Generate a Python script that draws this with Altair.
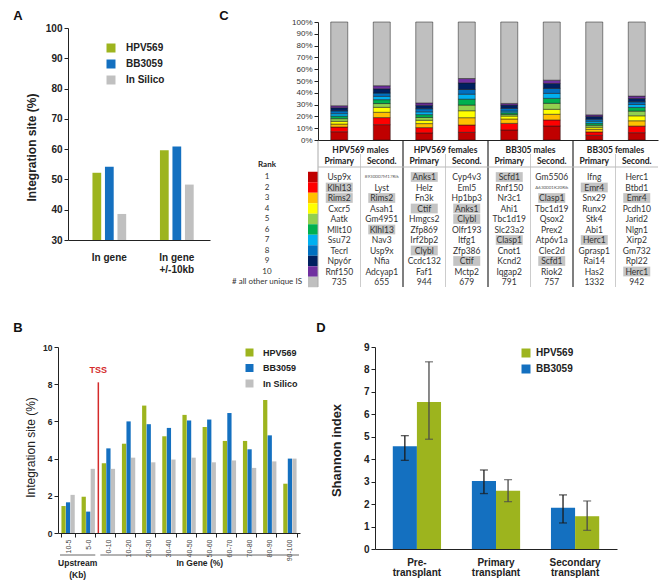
import altair as alt
import pandas as pd

FONT = "Liberation Sans"
TFONT = "Lato"
GREEN = "#9DB41E"
BLUE = "#1470C0"
SILVER = "#C0C0C0"
INK = "#222222"

# ---------------- Panel A ----------------
a_groups = ["In gene", "In gene +/-10kb"]
a_series = ["HPV569", "BB3059", "In Silico"]
a_hpv569 = [52.2, 59.6]
a_bb3059 = [54.2, 60.9]
a_silico = [38.6, 48.3]

# ---------------- Panel B ----------------
b_bins = ["10-5", "5-0", "0-10", "10-20", "20-30", "30-40", "40-50",
          "50-60", "60-70", "70-80", "80-90", "90-100"]
b_series = ["HPV569", "BB3059", "In Silico"]
b_hpv569 = [1.45, 1.95, 3.75, 4.8, 6.85, 5.2, 6.35, 5.7, 4.95, 4.95, 7.15, 2.65]
b_bb3059 = [1.65, 1.15, 4.55, 6.0, 5.85, 5.65, 6.05, 6.1, 6.45, 4.5, 5.25, 4.0]
b_silico = [2.05, 3.45, 3.45, 4.05, 3.8, 3.95, 4.05, 3.8, 3.9, 3.5, 3.85, 4.0]
b_tss = 8.1

# ---------------- Panel C ----------------
c_groups = ["HPV569 males", "HPV569 females", "BB305 males", "BB305 females"]
c_stages = ["Primary", "Second."]
c_ranks = ["1", "2", "3", "4", "5", "6", "7", "8", "9", "10", "other"]
c_rank_labels = ["1", "2", "3", "4", "5", "6", "7", "8", "9", "10", "# all other unique IS"]
c_rank_colors = ["#C00000", "#FF0000", "#FFC000", "#FFFF00", "#92D050", "#00B050",
                 "#00B0F0", "#0070C0", "#002060", "#7030A0", "#BFBFBF"]
c_top10 = [
    [7.0, 4.0, 2.5, 2.3, 2.3, 2.1, 2.1, 2.4, 2.6, 1.7],
    [13.0, 6.0, 4.5, 4.2, 3.2, 3.3, 2.8, 2.8, 3.6, 2.6],
    [6.0, 4.5, 3.4, 2.8, 2.4, 2.4, 2.4, 2.6, 2.9, 2.0],
    [6.5, 6.2, 6.2, 5.9, 4.8, 5.0, 4.2, 4.0, 5.6, 3.7],
    [8.5, 5.6, 3.7, 2.5, 1.4, 1.4, 1.4, 2.3, 2.8, 1.4],
    [11.9, 5.1, 4.8, 4.2, 5.1, 4.2, 4.2, 4.2, 4.2, 2.8],
    [4.0, 2.8, 2.3, 1.7, 1.7, 1.7, 1.7, 1.7, 2.3, 1.4],
    [6.2, 5.6, 4.5, 4.2, 4.0, 3.1, 2.5, 2.3, 2.8, 2.0],
]
c_genes = [
    ["Usp9x", "Klhl13", "Rims2", "Cxcr5", "Aatk", "Mllt10", "Ssu72", "Tecrl", "Npy6r", "Rnf150"],
    ["8930007M17Rik", "Lyst", "Rims2", "Asah1", "Gm4951", "Klhl13", "Nav3", "Usp9x", "Nfia", "Adcyap1"],
    ["Anks1", "Helz", "Fn3k", "Ctif", "Hmgcs2", "Zfp869", "Irf2bp2", "Clybl", "Ccdc132", "Faf1"],
    ["Cyp4v3", "Eml5", "Hp1bp3", "Anks1", "Clybl", "Olfr193", "Itfg1", "Zfp386", "Ctif", "Mctp2"],
    ["Scfd1", "Rnf150", "Nr3c1", "Ahi1", "Tbc1d19", "Slc23a2", "Clasp1", "Cnot1", "Kcnd2", "Iqgap2"],
    ["Gm5506", "A630001K20Rik", "Clasp1", "Tbc1d19", "Qsox2", "Prex2", "Atp6v1a", "Clec2d", "Scfd1", "Riok2"],
    ["Ifng", "Emr4", "Snx29", "Runx2", "Stk4", "Abi1", "Herc1", "Gprasp1", "Rai14", "Has2"],
    ["Herc1", "Btbd1", "Emr4", "Pcdh10", "Jarid2", "Nlgn1", "Xirp2", "Gm732", "Rpl22", "Herc1"],
]
c_other_counts = [735, 655, 944, 679, 791, 757, 1332, 942]
c_highlight = [[2, 3], [3, 6], [1, 4, 8], [4, 5, 9], [1, 7], [3, 9], [2, 7], [3, 10]]

# ---------------- Panel D ----------------
d_groups = ["Pre-transplant", "Primary transplant", "Secondary transplant"]
d_series = ["HPV569", "BB3059"]
d_bb3059 = [4.58, 3.03, 1.84]
d_bb3059_lo = [3.95, 2.47, 1.16]
d_bb3059_hi = [5.05, 3.52, 2.41]
d_hpv569 = [6.55, 2.59, 1.46]
d_hpv569_lo = [4.89, 2.11, 0.83]
d_hpv569_hi = [8.34, 3.09, 2.14]

panel_letters = ["A", "B", "C", "D"]

# ================= tables =================
dfA = pd.DataFrame([{"group": g, "series": s, "value": v}
                    for s, vals in zip(a_series, [a_hpv569, a_bb3059, a_silico])
                    for g, v in zip(a_groups, vals)])
dfB = pd.DataFrame([{"bin": b, "series": s, "value": v}
                    for s, vals in zip(b_series, [b_hpv569, b_bb3059, b_silico])
                    for b, v in zip(b_bins, vals)])
c_cols = [f"{g}|{s}" for g in c_groups for s in c_stages]
rowsC, rowsT = [], []
for ci, col in enumerate(c_cols):
    segs = c_top10[ci] + [100 - sum(c_top10[ci])]
    for ri, (rk, v) in enumerate(zip(c_ranks, segs)):
        rowsC.append({"col": col, "rank": rk, "idx": ri, "value": v})
    texts = c_genes[ci] + [str(c_other_counts[ci])]
    for ri, (rk, t) in enumerate(zip(c_ranks, texts)):
        rowsT.append({"col": col, "rank": rk, "text": t,
                      "hl": (ri + 1) in c_highlight[ci]})
dfC = pd.DataFrame(rowsC)
dfT = pd.DataFrame(rowsT)
dfSub = pd.DataFrame({"col": c_cols, "stage": [c.split("|")[1] for c in c_cols]})
dfSec = pd.DataFrame({"sec": c_groups})
dfRank = pd.DataFrame({"rank": c_ranks, "label": c_rank_labels})
dfD = pd.DataFrame(
    [{"group": g, "series": "BB3059", "value": v, "lo": lo, "hi": hi}
     for g, v, lo, hi in zip(d_groups, d_bb3059, d_bb3059_lo, d_bb3059_hi)] +
    [{"group": g, "series": "HPV569", "value": v, "lo": lo, "hi": hi}
     for g, v, lo, hi in zip(d_groups, d_hpv569, d_hpv569_lo, d_hpv569_hi)])


def yaxis(offset, values, size, **kw):
    base = dict(orient="left", offset=offset, values=values, grid=False,
                domainColor=INK, tickColor=INK, tickSize=4, labelFont=FONT,
                labelFontWeight="bold", labelFontSize=size, labelColor=INK,
                labelPadding=2, titleFont=FONT, titleColor=INK, titleAngle=270,
                titleBaseline="middle", titleAlign="center")
    base.update(kw)
    return alt.Axis(**base)


def legend(x, y, size, sym, rowpad, lofs):
    return alt.Legend(orient="none", legendX=x, legendY=y, title=None,
                      symbolType="square", symbolSize=sym, symbolStrokeWidth=0,
                      labelFont=FONT, labelFontWeight="bold", labelFontSize=size,
                      labelColor=INK, rowPadding=rowpad, labelOffset=lofs, padding=0)


layers = []

# ---------------- Panel A ----------------
xA = alt.Scale(domain=a_groups, range=[60, 202], paddingInner=0.5,
               paddingOuter=0.302, align=0.6)
yA = alt.Scale(domain=[30, 100], range=[232, 20], zero=False, nice=False)
layers.append(alt.Chart(dfA).mark_bar().encode(
    x=alt.X("group:N", scale=xA, sort=a_groups,
            axis=alt.Axis(orient="bottom", offset=-340, title=None, labelAngle=0,
                          ticks=False, domainColor=INK, labelFont=FONT,
                          labelFontWeight="bold", labelFontSize=10, labelColor=INK,
                          labelPadding=12, labelLineHeight=12, labelBaseline="top",
                          labelExpr="datum.label == 'In gene +/-10kb' ? ['In gene', '+/-10kb'] : datum.label")),
    xOffset=alt.XOffset("series:N", sort=a_series,
                        scale=alt.Scale(domain=a_series, paddingInner=0.3)),
    y=alt.Y("value:Q", scale=yA, stack=None,
            axis=yaxis(-60, list(range(30, 101, 10)), 10,
                       title="Integration site (%)", titleX=-37, titleY=139,
                       titleFontSize=12, titleFontWeight="bold")),
    y2=alt.datum(30),
    color=alt.Color("series:N", scale=alt.Scale(domain=a_series, range=[GREEN, BLUE, SILVER]),
                    legend=legend(98, 35, 10, 81, 6, 10)),
))

# ---------------- Panel B ----------------
xB = alt.Scale(domain=b_bins, range=[50, 292], paddingInner=0.34, paddingOuter=0.17)
yB = alt.Scale(domain=[0, 10], range=[525, 339], nice=False)
layers.append(alt.Chart(dfB).mark_bar().encode(
    x=alt.X("bin:N", scale=xB, sort=b_bins,
            axis=alt.Axis(orient="bottom", offset=-47, title=None, labelAngle=270,
                          tickBand="extent", tickSize=4, tickColor=INK, domainColor=INK,
                          labelFont=FONT, labelFontSize=7, labelColor="#444",
                          labelPadding=2)),
    xOffset=alt.XOffset("series:N", sort=b_series,
                        scale=alt.Scale(domain=b_series, paddingInner=0.06)),
    y=alt.Y("value:Q", scale=yB, stack=None,
            axis=yaxis(-50, [0, 2, 4, 6, 8, 10], 8.5,
                       title="Integration site (%)", titleX=-28, titleY=439,
                       titleFontSize=12, titleFontWeight="normal")),
    color=alt.Color("series:N", scale=alt.Scale(domain=b_series, range=[GREEN, BLUE, SILVER]),
                    legend=legend(237, 340, 9, 64, 5.5, 9)),
))

xBq = alt.Scale(domain=[0, 12], range=[50, 292])
layers.append(alt.Chart(pd.DataFrame({"pos": [2], "lo": [0], "hi": [b_tss]})).mark_rule(
    color="#D42A2A", strokeWidth=1.5).encode(
    x=alt.X("pos:Q", scale=xBq, axis=None),
    y=alt.Y("lo:Q", scale=yB, axis=None), y2="hi:Q"))
layers.append(alt.Chart(pd.DataFrame({"pos": [2], "y": [b_tss + 0.65], "t": ["TSS"]})).mark_text(
    color="#D42A2A", font=FONT, fontWeight="bold", fontSize=9).encode(
    x=alt.X("pos:Q", scale=xBq, axis=None),
    y=alt.Y("y:Q", scale=yB, axis=None), text="t:N"))
dfBr = pd.DataFrame({"x0": [0.1, 2.1], "x1": [1.85, 11.95],
                     "mid": [0.975, 7.03], "t": ["Upstream\n(Kb)", "In Gene (%)"]})
layers.append(alt.Chart(dfBr).mark_rule(color="#666", strokeWidth=1).encode(
    x=alt.X("x0:Q", scale=xBq, axis=None), x2="x1:Q", y=alt.value(547)))
layers.append(alt.Chart(dfBr).mark_text(
    font=FONT, fontWeight="bold", fontSize=8.5, color=INK, baseline="top",
    lineBreak="\n", lineHeight=12).encode(
    x=alt.X("mid:Q", scale=xBq, axis=None), y=alt.value(551), text="t:N"))

# ---------------- Panel C ----------------
xC = alt.Scale(domain=c_cols, range=[310, 650], paddingInner=0.6, paddingOuter=0.3)
yC = alt.Scale(domain=[0, 100], range=[132, 14], nice=False)
rowsY = alt.Scale(domain=c_ranks, range=[163.75, 279.25], paddingInner=0, paddingOuter=0)
secX = alt.Scale(domain=c_groups, range=[310, 650], paddingInner=0, paddingOuter=0)

layers.append(alt.Chart(dfC).mark_bar(stroke="#1a1a1a", strokeWidth=0.5).encode(
    x=alt.X("col:N", scale=xC, sort=c_cols,
            axis=alt.Axis(orient="bottom", offset=-440, labels=False, ticks=False,
                          title=None, domainColor=INK)),
    y=alt.Y("value:Q", scale=yC, stack="zero",
            axis=alt.Axis(orient="left", offset=-310, values=list(range(0, 101, 10)),
                          grid=False, title=None, labelExpr="datum.value + '%'",
                          labelFont=FONT, labelFontSize=8, labelColor="#333",
                          tickSize=4, tickColor=INK, domainColor=INK, labelPadding=2)),
    color=alt.Color("rank:N", scale=alt.Scale(domain=c_ranks, range=c_rank_colors), legend=None),
    order=alt.Order("idx:Q", sort="ascending"),
))

# table: highlight boxes
layers.append(alt.Chart(dfT).transform_filter("datum.hl").mark_point(
    shape="M-1,-0.36L1,-0.36L1,0.36L-1,0.36Z", size=729, filled=True,
    color="#C4C4C4", opacity=1, strokeWidth=0).encode(
    x=alt.X("col:N", scale=xC, sort=c_cols, axis=None),
    y=alt.Y("rank:N", scale=rowsY, sort=c_ranks, axis=None)))
# table: gene names / counts
layers.append(alt.Chart(dfT).transform_filter("length(datum.text) <= 10").mark_text(
    font=TFONT, fontSize=8.5, color="#333").encode(
    x=alt.X("col:N", scale=xC, sort=c_cols, axis=None),
    y=alt.Y("rank:N", scale=rowsY, sort=c_ranks, axis=None), text="text:N"))
layers.append(alt.Chart(dfT).transform_filter("length(datum.text) > 10").mark_text(
    font=TFONT, fontSize=4.5, color="#555").encode(
    x=alt.X("col:N", scale=xC, sort=c_cols, axis=None),
    y=alt.Y("rank:N", scale=rowsY, sort=c_ranks, axis=None), text="text:N"))
# table: headers
layers.append(alt.Chart(dfSec).mark_text(
    font=TFONT, fontSize=8.5, fontWeight="bold", color=INK).encode(
    x=alt.X("sec:N", scale=secX, sort=c_groups, axis=None),
    y=alt.value(142), text="sec:N"))
layers.append(alt.Chart(dfSub).mark_text(
    font=TFONT, fontSize=8.5, fontWeight="bold", color=INK).encode(
    x=alt.X("col:N", scale=xC, sort=c_cols, axis=None),
    y=alt.value(153), text="stage:N"))
# rank column
layers.append(alt.Chart(dfRank).mark_rect().encode(
    x=alt.value(300), x2=alt.value(310),
    y=alt.Y("rank:N", scale=rowsY, sort=c_ranks, axis=None),
    color=alt.Color("rank:N", scale=alt.Scale(domain=c_ranks, range=c_rank_colors), legend=None)))
layers.append(alt.Chart(dfRank).mark_text(
    font=TFONT, fontSize=8, color="#333").encode(
    x=alt.value(259),
    y=alt.Y("rank:N", scale=rowsY, sort=c_ranks, axis=None), text="label:N"))
layers.append(alt.Chart(pd.DataFrame({"t": ["Rank"]})).mark_text(
    font=TFONT, fontSize=8, fontWeight="bold", color=INK).encode(
    x=alt.value(259), y=alt.value(157), text="t:N"))
# table lines
layers.append(alt.Chart(dfSec.iloc[1:]).mark_rule(color="#555", strokeWidth=1.5).encode(
    x=alt.X("sec:N", scale=secX, sort=c_groups, axis=None, bandPosition=0),
    y=alt.value(133), y2=alt.value(279)))
layers.append(alt.Chart(dfSec.iloc[:1]).mark_rule(color="#AAA", strokeWidth=1).encode(
    x=alt.X("sec:N", scale=secX, sort=c_groups, axis=None, bandPosition=0),
    y=alt.value(133), y2=alt.value(279)))
layers.append(alt.Chart(dfSec).mark_rule(color="#CCC", strokeWidth=1).encode(
    x=alt.X("sec:N", scale=secX, sort=c_groups, axis=None, bandPosition=0.5),
    y=alt.value(146), y2=alt.value(279)))
layers.append(alt.Chart(pd.DataFrame({"t": ["line"]})).mark_rule(color="#BBB", strokeWidth=1).encode(
    x=alt.value(310), x2=alt.value(650), y=alt.value(159)))

# ---------------- Panel D ----------------
xD = alt.Scale(domain=d_groups, range=[367, 609], paddingInner=0.39,
               paddingOuter=0.225)
yD = alt.Scale(domain=[0, 9], range=[541, 339], nice=False)
offD = alt.XOffset("series:N", sort=["BB3059", "HPV569"],
                   scale=alt.Scale(domain=["BB3059", "HPV569"], paddingInner=0, paddingOuter=0))
layers.append(alt.Chart(dfD).mark_bar().encode(
    x=alt.X("group:N", scale=xD, sort=d_groups,
            axis=alt.Axis(orient="bottom", offset=-31, title=None, labelAngle=0,
                          ticks=False, domainColor=INK, labelFont=FONT,
                          labelFontWeight="bold", labelFontSize=10, labelColor=INK,
                          labelPadding=8, labelLineHeight=10.5, labelBaseline="top",
                          labelExpr="datum.label == 'Pre-transplant' ? ['Pre-', 'transplant'] : split(datum.label, ' ')")),
    xOffset=offD,
    y=alt.Y("value:Q", scale=yD, stack=None,
            axis=yaxis(-367, list(range(0, 10)), 10,
                       title="Shannon index", titleX=-39, titleY=442,
                       titleFontSize=13, titleFontWeight="bold")),
    color=alt.Color("series:N", scale=alt.Scale(domain=d_series, range=[GREEN, BLUE]),
                    legend=legend(513, 340, 10, 81, 6, 5)),
))
errD = alt.Chart(dfD).encode(
    x=alt.X("group:N", scale=xD, sort=d_groups, axis=None),
    xOffset=offD,
    color=alt.Color("series:N", scale=alt.Scale(domain=["BB3059", "HPV569"], range=["#1a1a1a", "#4a4a4a"]),
                    legend=None))
layers.append(errD.mark_rule(strokeWidth=1.3).encode(
    y=alt.Y("lo:Q", scale=yD, axis=None), y2="hi:Q"))
layers.append(errD.transform_fold(["lo", "hi"], as_=["end", "v"]).mark_tick(
    orient="horizontal", size=8, thickness=1.3).encode(
    y=alt.Y("v:Q", scale=yD, axis=None)))

# ---------------- panel letters ----------------
letter_pos = {"A": (10, 8), "B": (10, 320), "C": (216, 8), "D": (313, 320)}
for L in panel_letters:
    px, py = letter_pos[L]
    layers.append(alt.Chart(pd.DataFrame({"t": [L]})).mark_text(
        font=FONT, fontWeight="bold", fontSize=13, color="#111", baseline="middle").encode(
        x=alt.value(px), y=alt.value(py), text="t:N"))

chart = alt.layer(*layers).resolve_scale(
    x="independent", y="independent", color="independent", xOffset="independent"
).properties(
    width=652, height=572, padding=0,
    autosize=alt.AutoSizeParams(type="none"),
).configure_view(stroke=None)

chart.save("out.html", embed_options={"renderer": "svg", "actions": False})
